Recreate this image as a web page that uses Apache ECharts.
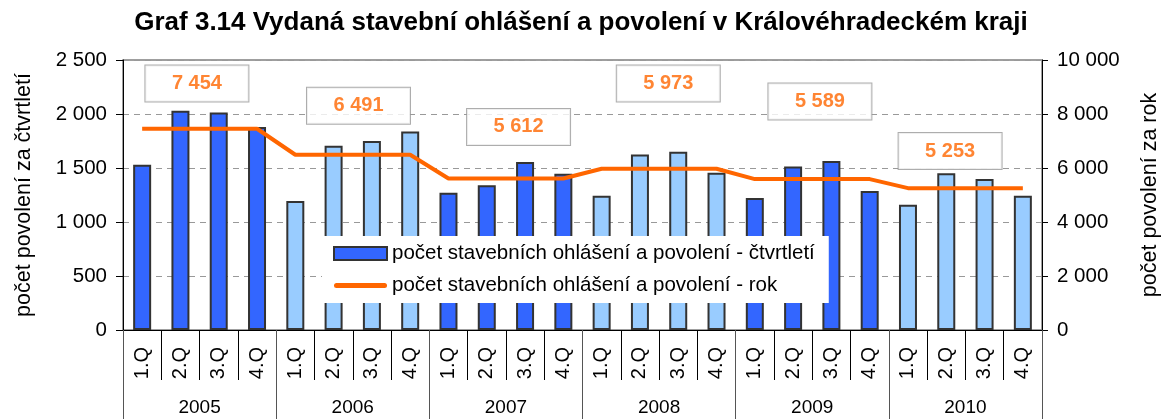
<!DOCTYPE html>
<html lang="cs">
<head>
<meta charset="UTF-8">
<title>Graf 3.14</title>
<script src="https://cdn.jsdelivr.net/npm/echarts@6/dist/echarts.min.js"></script>
<style>
  html, body { margin: 0; padding: 0; background: #fff; }
  #main { width: 1162px; height: 419px; }
</style>
</head>
<body>
<div id="main"></div>
<script>
// data
var years = ['2005', '2006', '2007', '2008', '2009', '2010'];
var quarters = ['1.Q', '2.Q', '3.Q', '4.Q'];
var quarterValues = [
  1530, 2030, 2015, 1879,
  1195, 1707, 1751, 1838,
  1270, 1340, 1556, 1446,
  1243, 1625, 1650, 1455,
  1222, 1515, 1565, 1287,
  1160, 1452, 1398, 1243
];
var yearTotals = [7454, 6491, 5612, 5973, 5589, 5253];
// where the boxes with year totals sit (x = quarter index, y = left axis value)
var boxPos = [[1.43, 2282], [5.65, 2076], [9.83, 1880], [13.74, 2282], [17.7, 2116], [21.1, 1657]];

var FONT = 'Liberation Sans, Arial, sans-serif';
var DARK = '#3366FF', LIGHT = '#99CCFF', ORANGE = '#FF6600';

function spaced(v) {
  return String(v).replace(/\B(?=(\d{3})+(?!\d))/g, ' ');
}

var categories = [];
var barData = [];
var lineData = [];
years.forEach(function (y, yi) {
  quarters.forEach(function (q, qi) {
    var i = yi * 4 + qi;
    categories.push(q);
    barData.push({
      value: quarterValues[i],
      itemStyle: { color: yi % 2 === 0 ? DARK : LIGHT }
    });
    lineData.push(yearTotals[yi]);
  });
});
var boxData = boxPos.map(function (p, i) {
  return { value: p, name: spaced(yearTotals[i]) };
});

var option = {
  backgroundColor: '#fff',
  animation: false,
  textStyle: { fontFamily: FONT },
  title: {
    text: 'Graf 3.14 Vydaná stavební ohlášení a povolení v Královéhradeckém kraji',
    left: 'center',
    top: 5,
    textStyle: { fontFamily: FONT, fontSize: 26, fontWeight: 'bold', color: '#000' }
  },
  grid: {
    left: 123, right: 120, top: 60, bottom: 89,
    outerBoundsMode: 'none',
    containLabel: false,
    show: true, borderColor: '#808080', borderWidth: 1.5
  },
  legend: {
    orient: 'vertical',
    left: 322, top: 236,
    backgroundColor: '#fff',
    padding: [7, 14, 7, 11],
    itemWidth: 53, itemHeight: 13, itemGap: 11,
    itemTextGap: 6,
    textStyle: { fontFamily: FONT, fontSize: 20.5, color: '#000' },
    data: [
      { name: 'počet stavebních ohlášení a povolení - čtvrtletí', icon: 'rect',
        itemStyle: { color: DARK, borderColor: '#333', borderWidth: 2 } },
      { name: 'počet stavebních ohlášení a povolení - rok',
        icon: 'path://M2.5,0H50.5A2.5,2.5,0,0,1,50.5,5H2.5A2.5,2.5,0,0,1,2.5,0Z',
        itemStyle: { color: ORANGE, borderWidth: 0 } }
    ]
  },
  xAxis: [
    {
      type: 'category',
      data: categories,
      position: 'bottom',
      axisLine: { onZero: false, lineStyle: { color: '#000', width: 1 } },
      axisTick: { show: true, length: 50, interval: 0, lineStyle: { color: '#000' } },
      axisLabel: { interval: 0, rotate: 90, margin: 17, fontSize: 20, color: '#000', fontFamily: FONT }
    },
    {
      type: 'category',
      data: years,
      position: 'bottom',
      offset: 0,
      axisLine: { show: false, onZero: false },
      axisTick: { show: true, length: 89, interval: 0, lineStyle: { color: '#555' } },
      axisLabel: { interval: 0, margin: 68, fontSize: 19, color: '#000', fontFamily: FONT }
    },
    {
      // hidden helper axis used only to place the year-total boxes
      type: 'value',
      min: -0.5, max: 23.5,
      position: 'top',
      show: false,
      axisLine: { show: false, onZero: false },
      axisTick: { show: false },
      axisLabel: { show: false },
      splitLine: { show: false }
    }
  ],
  yAxis: [
    {
      type: 'value',
      min: 0, max: 2500, interval: 500,
      name: 'počet povolení za čtvrtletí',
      nameLocation: 'middle',
      nameGap: 88,
      nameTextStyle: { fontFamily: FONT, fontSize: 21.5, color: '#000' },
      axisLine: { show: true, onZero: false, lineStyle: { color: '#000' } },
      axisTick: { show: true, length: 7, lineStyle: { color: '#000' } },
      axisLabel: { margin: 16, fontSize: 20.5, color: '#000', fontFamily: FONT, formatter: spaced },
      splitLine: { show: true, lineStyle: { color: '#999', type: [6, 5] } }
    },
    {
      type: 'value',
      min: 0, max: 10000, interval: 2000,
      name: 'počet povolení za rok',
      nameLocation: 'middle',
      nameGap: 97,
      nameRotate: 90,
      nameTextStyle: { fontFamily: FONT, fontSize: 21.5, color: '#000' },
      axisLine: { show: true, onZero: false, lineStyle: { color: '#000' } },
      axisTick: { show: true, length: 6, lineStyle: { color: '#000' } },
      axisLabel: { margin: 15, fontSize: 20.5, color: '#000', fontFamily: FONT, formatter: spaced },
      splitLine: { show: false }
    }
  ],
  series: [
    {
      name: 'počet stavebních ohlášení a povolení - čtvrtletí',
      type: 'bar',
      xAxisIndex: 0, yAxisIndex: 0,
      barWidth: 18,
      itemStyle: { color: DARK, borderColor: '#333', borderWidth: 2 },
      data: barData
    },
    {
      name: 'počet stavebních ohlášení a povolení - rok',
      type: 'line',
      xAxisIndex: 0, yAxisIndex: 1,
      symbol: 'none',
      itemStyle: { color: ORANGE },
      lineStyle: { color: ORANGE, width: 4 },
      z: 3,
      data: lineData
    },
    {
      name: 'souhrn',
      type: 'scatter',
      xAxisIndex: 2, yAxisIndex: 0,
      symbolSize: 0,
      z: 5,
      label: {
        show: true,
        position: 'inside',
        formatter: function (p) { return p.name; },
        backgroundColor: '#fff',
        borderColor: '#999',
        borderWidth: 1,
        width: 103, height: 36, lineHeight: 36,
        align: 'center', verticalAlign: 'middle',
        color: ORANGE, fontSize: 20, fontWeight: 'bold', fontFamily: FONT
      },
      data: boxData
    }
  ]
};

var chart = echarts.init(document.getElementById('main'), null, { renderer: 'canvas' });
chart.setOption(option);
</script>
</body>
</html>
